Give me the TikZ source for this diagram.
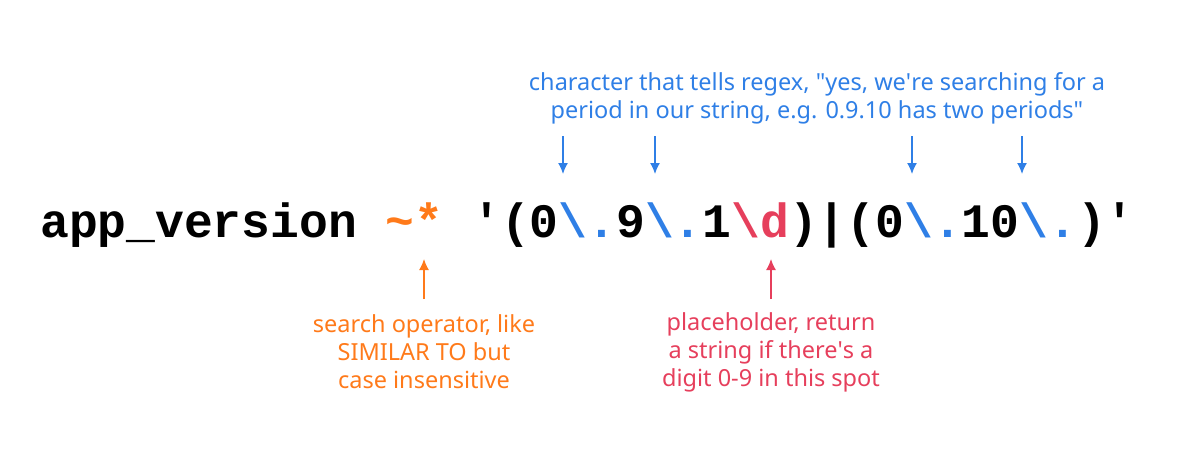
\documentclass[tikz,border=0pt]{standalone}
\usepackage{fontspec}
\usetikzlibrary{arrows.meta}
\setmainfont{Noto Sans}
\newfontfamily\codefont{Liberation Mono}
\definecolor{cblue}{HTML}{2F7FE6}
\definecolor{corange}{HTML}{FF7A1A}
\definecolor{cred}{HTML}{E63F5C}
\begin{document}
\begin{tikzpicture}[x=1pt,y=-1pt,
  lbl/.style={font=\fontsize{23.5}{28}\selectfont,align=center,inner sep=0pt},
  arr/.style={-{Latex[length=11pt,width=10pt]},line width=1.4pt}]
\useasboundingbox (0,0) rectangle (1200,463);
\node[anchor=base west,inner sep=0pt,font=\codefont\bfseries\fontsize{48}{48}\selectfont] (code) at (40,237)
 {app\_version \textcolor{corange}{\textasciitilde*} \textquotesingle(0\textcolor{cblue}{\textbackslash.}9\textcolor{cblue}{\textbackslash.}1\textcolor{cred}{\textbackslash d})|(0\textcolor{cblue}{\textbackslash.}10\textcolor{cblue}{\textbackslash.})\textquotesingle};
\node[lbl,text=cblue] (blue) at (817,98) {character that tells regex, \textquotedbl yes, we\textquotesingle re searching for a\\period in our string, e.g. 0.9.10 has two periods\textquotedbl};
\node[lbl,text=corange] (orange) at (424,352) {search operator, like\\SIMILAR TO but\\case insensitive};
\node[lbl,text=cred] (red) at (771,352) {placeholder, return\\a string if there\textquotesingle s a\\digit 0-9 in this spot};
\foreach \x/\n in {563/a,655/b,912/c,1022/d}{
  \coordinate (s\n) at (\x,136); \coordinate (t\n) at (\x,174);
  \draw[arr,cblue] (s\n) -- (t\n);}
\coordinate (os) at (424,299); \coordinate (ot) at (424,259);
\draw[arr,corange] (os) -- (ot);
\coordinate (rs) at (771,299); \coordinate (rt) at (771,259);
\draw[arr,cred] (rs) -- (rt);
\end{tikzpicture}
\end{document}
